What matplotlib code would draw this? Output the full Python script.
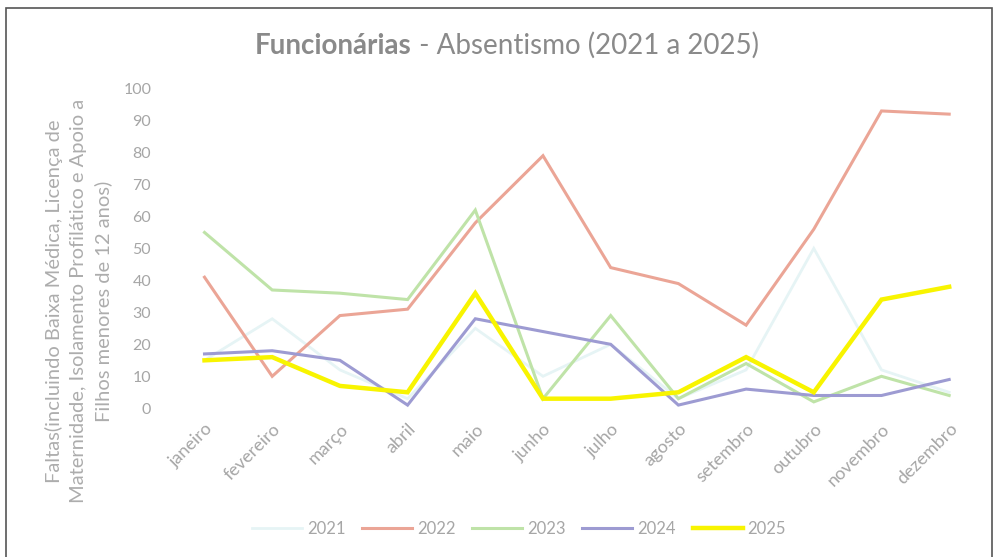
import matplotlib.pyplot as plt
from matplotlib.patches import Rectangle

meses = ['janeiro', 'fevereiro', 'março', 'abril', 'maio', 'junho',
         'julho', 'agosto', 'setembro', 'outubro', 'novembro', 'dezembro']

faltas_2021 = [15, 28, 12, 3, 25, 10, 20, 3, 12, 50, 12, 5]
faltas_2022 = [41, 10, 29, 31, 58, 79, 44, 39, 26, 56, 93, 92]
faltas_2023 = [55, 37, 36, 34, 62, 3, 29, 3, 14, 2, 10, 4]
faltas_2024 = [17, 18, 15, 1, 28, 24, 20, 1, 6, 4, 4, 9]
faltas_2025 = [15, 16, 7, 5, 36, 3, 3, 5, 16, 5, 34, 38]

series = [
    ('2021', faltas_2021, '#e6f4f5', 2.0),
    ('2022', faltas_2022, '#eba596', 2.2),
    ('2023', faltas_2023, '#bfe3a8', 2.2),
    ('2024', faltas_2024, '#9d9bd2', 2.2),
    ('2025', faltas_2025, '#f8f400', 3.2),
]

plt.rcParams['font.family'] = ['Lato', 'DejaVu Sans']
cinza = '#a6a6a6'

fig = plt.figure(figsize=(9.98, 5.57), dpi=100)
fig.patches.append(Rectangle((0.006, -0.01), 0.988, 0.995, transform=fig.transFigure,
                             fill=False, edgecolor='#555555', linewidth=1.2))

ax = fig.add_axes([0.171, 0.267, 0.814, 0.574])
x = list(range(len(meses)))
for nome, vals, cor, lw in series:
    ax.plot(x, vals, color=cor, linewidth=lw, label=nome, solid_joinstyle='miter')

ax.set_xlim(-0.5, len(meses) - 0.5)
ax.set_ylim(0, 100)
ax.set_yticks(range(0, 101, 10))
ax.set_xticks(x)
ax.set_xticklabels(meses, rotation=45, ha='right', rotation_mode='anchor',
                   color=cinza, fontsize=13)
ax.tick_params(axis='y', colors=cinza, labelsize=11.5, length=0, pad=14)
ax.tick_params(axis='x', length=0, pad=9)
for s in ax.spines.values():
    s.set_visible(False)

ax.set_ylabel('Faltas(incluindo Baixa Médica, Licença de\n'
              'Maternidade, Isolamento Profilático e Apoio a\n'
              'Filhos menores de 12 anos)',
              color='#adadad', fontsize=14.5, linespacing=1.5)
ax.yaxis.set_label_coords(-0.072, 0.335)

# title: bold first word, rest regular, centred as one line
t1 = fig.text(0, 0.918, 'Funcionárias', ha='left', va='center',
              fontsize=20, fontweight='bold', color='#8a8a8a')
t2 = fig.text(0, 0.918, ' - Absentismo (2021 a 2025)', ha='left', va='center',
              fontsize=20, color='#8a8a8a')
fig.canvas.draw()
r = fig.canvas.get_renderer()
w1 = t1.get_window_extent(r).width / fig.bbox.width
w2 = t2.get_window_extent(r).width / fig.bbox.width
x0 = 0.508 - (w1 + w2) / 2
t1.set_x(x0)
t2.set_x(x0 + w1)

leg = fig.legend(loc='center', bbox_to_anchor=(0.52, 0.05), ncol=5, frameon=False,
                 fontsize=12, handlelength=3.0, columnspacing=1.0, handletextpad=0.3)
for t in leg.get_texts():
    t.set_color(cinza)

fig.savefig('out.png', dpi=100, facecolor='white')
